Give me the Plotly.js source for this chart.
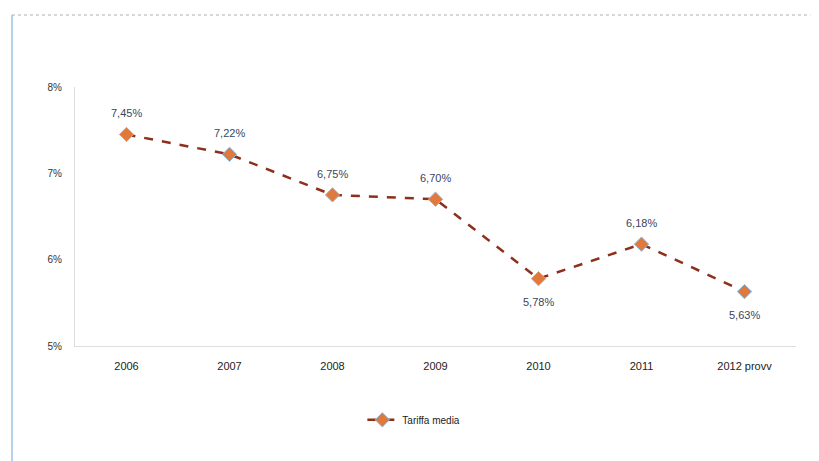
<!DOCTYPE html>
<html>
<head>
<meta charset="utf-8">
<script src="https://cdn.plot.ly/plotly-3.0.1.min.js"></script>
<style>html,body{margin:0;padding:0;background:#fff;}#chart{width:819px;height:461px;}</style>
</head>
<body>
<div id="chart"></div>
<script>
const categories = ["2006", "2007", "2008", "2009", "2010", "2011", "2012 provv"];
const tariffaMedia = [7.45, 7.22, 6.75, 6.70, 5.78, 6.18, 5.63];
const labelAbove = [true, true, true, true, false, true, false];
const yTickValues = [5, 6, 7, 8];
const yTickLabels = ["5%", "6%", "7%", "8%"];
const seriesName = "Tariffa media";

const fontFam = "Liberation Sans, Arial, sans-serif";

const trace = {
  x: categories,
  y: tariffaMedia,
  type: "scatter",
  mode: "lines+markers",
  name: seriesName,
  line: {color: "#8e2f1c", width: 2.5, dash: "dash"},
  marker: {symbol: "diamond", size: 11, color: "#e0793a", line: {color: "#8fb8dc", width: 1}},
  cliponaxis: false
};

// category axis: annotation x given as category index
const annotations = categories.map((c, i) => ({
  x: i,
  y: tariffaMedia[i],
  xref: "x",
  yref: "y",
  text: tariffaMedia[i].toFixed(2).replace(".", ",") + "%",
  showarrow: false,
  yshift: labelAbove[i] ? 21 : -23,
  font: {family: fontFam, size: 11, color: "#3b4560"}
}));

const layout = {
  width: 819,
  height: 461,
  separators: ",.",
  margin: {l: 75, r: 23, t: 87, b: 115},
  paper_bgcolor: "#ffffff",
  plot_bgcolor: "#ffffff",
  showlegend: true,
  legend: {
    orientation: "h",
    x: 0.47, xanchor: "center",
    y: -0.285, yanchor: "middle",
    font: {family: fontFam, size: 10, color: "#222"}
  },
  xaxis: {
    type: "category",
    range: [-0.5, 6.5],
    showgrid: false,
    zeroline: false,
    showline: true,
    linecolor: "#dddddd",
    linewidth: 1,
    ticks: "",
    ticklabelstandoff: 10,
    tickfont: {family: fontFam, size: 11, color: "#222"}
  },
  yaxis: {
    range: [5, 8],
    tickmode: "array",
    tickvals: yTickValues,
    ticktext: yTickLabels,
    showgrid: false,
    zeroline: false,
    showline: true,
    linecolor: "#dddddd",
    linewidth: 1,
    ticks: "",
    ticklabelstandoff: 10,
    tickfont: {family: fontFam, size: 10, color: "#333"}
  },
  annotations: annotations,
  shapes: [
    {type: "line", xref: "paper", yref: "paper", x0: -0.0874, x1: -0.0874, y0: 1.278, y1: -0.45, line: {color: "#9cc3e4", width: 1.5}},
    {type: "line", xref: "paper", yref: "paper", x0: -0.0874, x1: 1.02, y0: 1.278, y1: 1.278, line: {color: "#b0b0b0", width: 1, dash: "dot"}}
  ]
};

Plotly.newPlot("chart", [trace], layout, {displayModeBar: false, staticPlot: true});
</script>
</body>
</html>
